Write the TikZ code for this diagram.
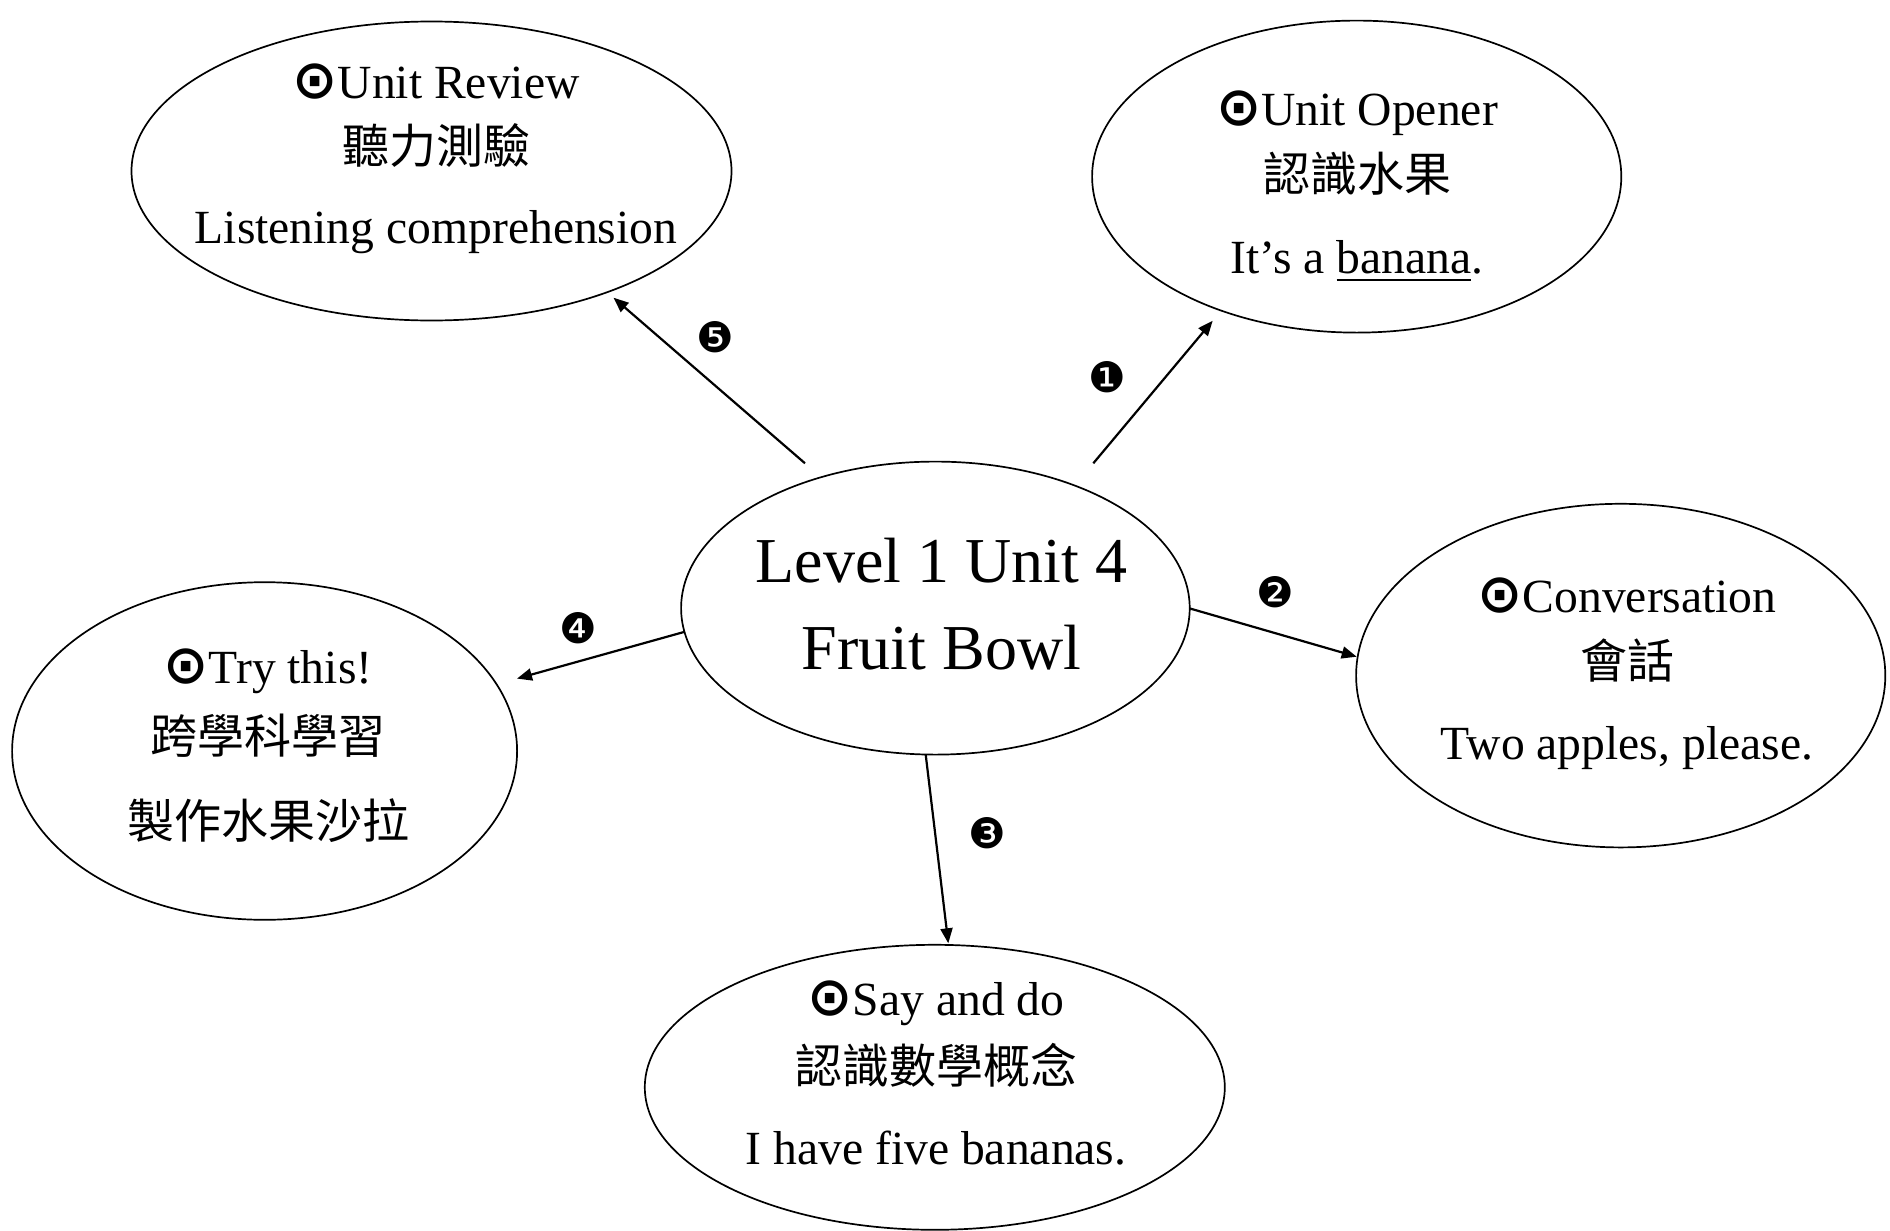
\documentclass[tikz,border=0pt]{standalone}
\usepackage{fontspec}
\setmainfont{Liberation Serif}
\newfontfamily\cjk{Noto Sans CJK TC}
\newfontfamily\dvs{DejaVu Sans}
\newfontfamily\dvsb{DejaVu Sans Bold}
\usetikzlibrary{arrows.meta,shapes.geometric}
\newcommand{\bul}{{\dvsb\fontsize{27}{27}\selectfont ⊙}}
\newcommand{\myul}[1]{\setbox0=\hbox{#1}\rlap{\rule[-4pt]{\wd0}{1.3pt}}\box0}
\begin{document}
\begin{tikzpicture}[x=0.5pt,y=-0.5pt,
  bub/.style={draw, ellipse, line width=0.85pt, inner sep=0pt, outer sep=0pt},
  lat/.style={anchor=base, inner sep=0pt, font=\fontsize{23.8}{28}\selectfont},
  han/.style={anchor=center, inner sep=0pt, font=\fontsize{23.5}{28}\selectfont\cjk},
  big/.style={anchor=base, inner sep=0pt, font=\fontsize{32}{38}\selectfont},
  num/.style={anchor=center, inner sep=0pt, font=\dvs\fontsize{21}{21}\selectfont},
  arr/.style={line width=1.1pt, -{Triangle[length=7.5pt,width=6pt]}}
]
\useasboundingbox (0,0) rectangle (1890,1231);
% ellipses
\node[bub, minimum width=300pt, minimum height=149.5pt] (review) at (431.5,171) {};
\node[bub, minimum width=264.6pt, minimum height=156pt] (opener) at (1356.7,176.6) {};
\node[bub, minimum width=254.3pt, minimum height=146.5pt] (c) at (935.4,608.1) {};
\node[bub, minimum width=264.6pt, minimum height=171.8pt] (conv) at (1620.7,675.6) {};
\node[bub, minimum width=252.5pt, minimum height=168.8pt] (try) at (264.6,751) {};
\node[bub, minimum width=290pt, minimum height=142.5pt] (say) at (934.8,1087.3) {};
% texts
\node[big] (c1) at (941.5,582.7) {Level 1 Unit 4};
\node[big] (c2) at (941.5,669.3) {Fruit Bowl};

\node[lat] (r1) at (436,98.3) {\bul Unit Review};
\node[han] (r2) at (436,145) {聽力測驗};
\node[lat] (r3) at (436,243) {Listening comprehension};

\node[lat] (o1) at (1357,125) {\bul Unit Opener};
\node[han] (o2) at (1357,173.5) {認識水果};
\node[lat] (o3) at (1357,273.3) {It’s a \myul{banana}.};

\node[lat] (v1) at (1627,612.7) {\bul Conversation};
\node[han] (v2) at (1627,661) {會話};
\node[lat] (v3) at (1627,759.3) {Two apples, please.};

\node[lat] (s1t) at (936,1015) {\bul Say and do};
\node[han] (s2t) at (936,1065.5) {認識數學概念};
\node[lat] (s3t) at (936,1164) {I have five bananas.};

\node[lat] (t1) at (268,683.3) {\bul Try this!};
\node[han] (t2) at (268,736) {跨學科學習};
\node[han] (t3) at (268,821) {製作水果沙拉};
% connector ends
\coordinate (a1s) at (1093.3,463.3); \coordinate (a1e) at (1212.7,320.7);
\coordinate (a2s) at (1189.3,608.3); \coordinate (a2e) at (1356.7,656.7);
\coordinate (a3s) at (925.7,754.6);  \coordinate (a3e) at (948.3,943.3);
\coordinate (a4s) at (685,631.7);    \coordinate (a4e) at (517,678.6);
\coordinate (a5s) at (805,463.3);    \coordinate (a5e) at (613.5,297.7);
\draw[arr] (a1s) -- (a1e);
\draw[arr] (a2s) -- (a2e);
\draw[arr] (a3s) -- (a3e);
\draw[arr] (a4s) -- (a4e);
\draw[arr] (a5s) -- (a5e);
% numbers
\node[num] (n1) at (1107.3,377.3) {❶};
\node[num] (n2) at (1275.7,592.3) {❷};
\node[num] (n3) at (987.7,833.3) {❸};
\node[num] (n4) at (578.7,628.3) {❹};
\node[num] (n5) at (715,337.3) {❺};
\end{tikzpicture}
\end{document}
